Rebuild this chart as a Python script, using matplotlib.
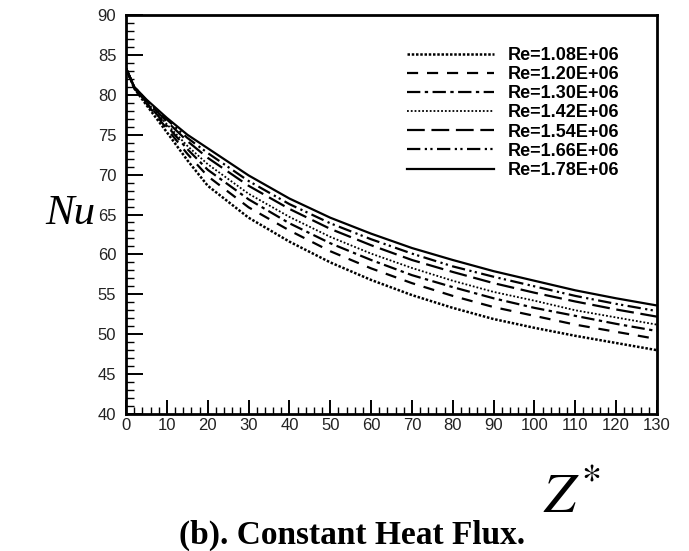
import numpy as np
import matplotlib
matplotlib.use('Agg')
import matplotlib.pyplot as plt
from matplotlib.ticker import MultipleLocator

# axial position Z* and local Nusselt number for each Reynolds number
z_star = [0, 2, 5, 10, 15, 20, 30, 40, 50, 60, 70, 80, 90, 100, 110, 120, 130]
nu_108 = [83.3, 80.8, 78.7, 75.3, 71.8, 68.6, 64.6, 61.6, 59.0, 56.8, 54.9, 53.3, 51.9, 50.8, 49.8, 48.9, 48.0]
nu_120 = [83.3, 80.85, 78.9, 75.75, 72.6, 69.8, 65.9, 63.0, 60.4, 58.25, 56.4, 54.8, 53.4, 52.3, 51.2, 50.3, 49.4]
nu_130 = [83.3, 80.9, 79.0, 76.1, 73.2, 70.6, 66.9, 63.9, 61.4, 59.3, 57.4, 55.9, 54.5, 53.3, 52.3, 51.3, 50.4]
nu_142 = [83.3, 80.9, 79.1, 76.3, 73.6, 71.3, 67.6, 64.7, 62.2, 60.1, 58.3, 56.7, 55.3, 54.2, 53.0, 52.1, 51.2]
nu_154 = [83.3, 80.95, 79.2, 76.65, 74.2, 72.1, 68.6, 65.7, 63.2, 61.15, 59.3, 57.8, 56.4, 55.2, 54.1, 53.1, 52.2]
nu_166 = [83.3, 81.0, 79.3, 76.9, 74.6, 72.7, 69.2, 66.3, 63.9, 61.9, 60.1, 58.5, 57.2, 56.0, 54.8, 53.8, 52.9]
nu_178 = [83.3, 81.0, 79.4, 77.1, 75.0, 73.3, 69.9, 67.0, 64.6, 62.6, 60.8, 59.3, 57.9, 56.7, 55.5, 54.5, 53.6]
labels = ['Re=1.08E+06', 'Re=1.20E+06', 'Re=1.30E+06', 'Re=1.42E+06',
          'Re=1.54E+06', 'Re=1.66E+06', 'Re=1.78E+06']

series = [nu_108, nu_120, nu_130, nu_142, nu_154, nu_166, nu_178]
styles = [((0, (1, 0.7)), 1.8),
          ((0, (5, 4)), 1.6),
          ((0, (6, 2, 1.5, 2)), 1.6),
          ((0, (1, 1.1)), 1.3),
          ((0, (8, 3)), 1.6),
          ((0, (6, 2, 1, 1.5, 1, 2)), 1.6),
          ('-', 1.6)]

fig = plt.figure(figsize=(6.89, 5.51), dpi=100)
ax = fig.add_axes([0.183, 0.2486, 0.7705, 0.7242])

for y, lab, (ls, lw) in zip(series, labels, styles):
    ax.plot(z_star, y, color='black', linestyle=ls, linewidth=lw, label=lab)

ax.set_xlim(0, 130)
ax.set_ylim(40, 90)
ax.xaxis.set_major_locator(MultipleLocator(10))
ax.xaxis.set_minor_locator(MultipleLocator(2))
ax.yaxis.set_major_locator(MultipleLocator(5))
ax.yaxis.set_minor_locator(MultipleLocator(1))
ax.tick_params(which='both', direction='in', top=False, right=False,
               labelsize=12, labelcolor='#222222', width=1.4)
ax.tick_params(axis='x', which='major', length=10, pad=3)
ax.tick_params(axis='x', which='minor', length=5, width=1.0)
ax.tick_params(axis='y', which='major', length=12, pad=7)
ax.tick_params(axis='y', which='minor', length=6, width=1.0)
for side in ['left', 'bottom', 'top', 'right']:
    ax.spines[side].set_linewidth(2.0)
for t in ax.get_xticklabels() + ax.get_yticklabels():
    t.set_family('Liberation Sans')

leg = ax.legend(loc='upper right', bbox_to_anchor=(0.930, 0.92), frameon=False,
                borderpad=0, borderaxespad=0,
                handlelength=4.8, handletextpad=0.8, labelspacing=0.12,
                prop={'family': 'Liberation Sans', 'weight': 'bold', 'size': 13})

fig.text(0.102, 0.612, 'Nu', family='Liberation Serif', style='italic',
         fontsize=31, ha='center', va='center')
fig.text(0.830, 0.098, r'$Z^{*}$', fontsize=41, ha='center', va='center',
         math_fontfamily='stix')
fig.text(0.511, 0.029, '(b). Constant Heat Flux.', family='Liberation Serif',
         weight='bold', fontsize=24, ha='center', va='center')

fig.savefig('out.png', dpi=100)
